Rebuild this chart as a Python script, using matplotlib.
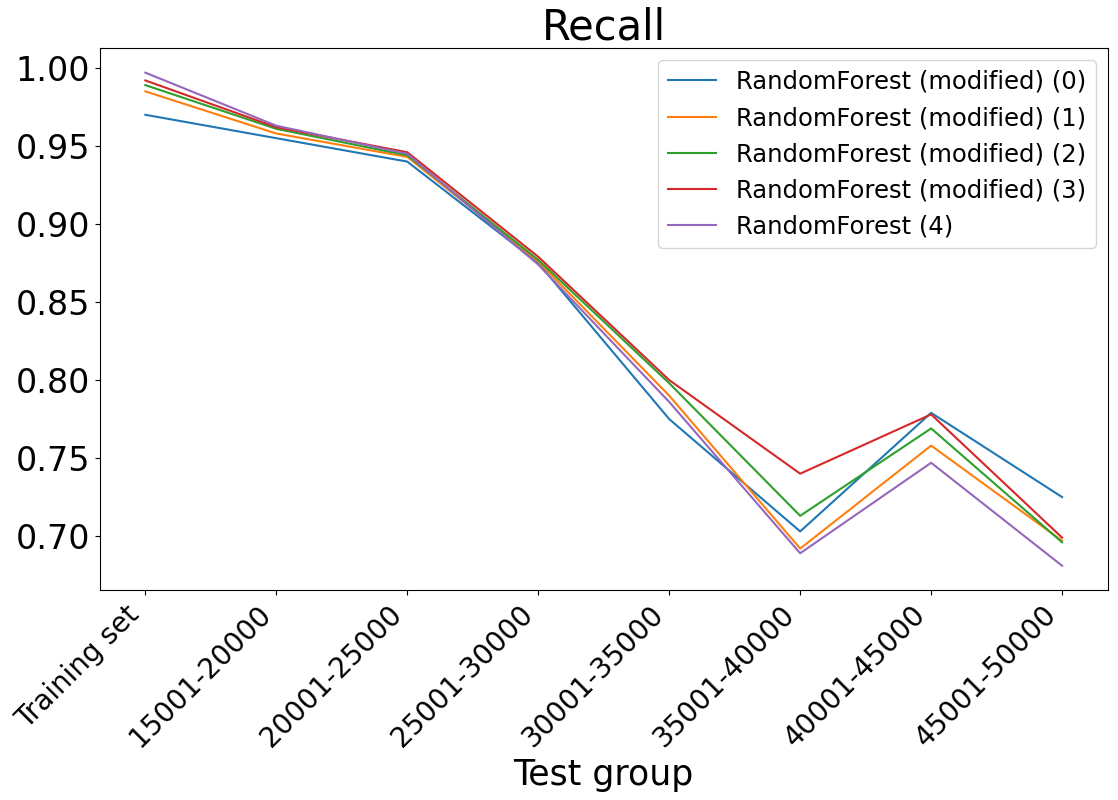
import matplotlib
matplotlib.use('Agg')
import matplotlib.pyplot as plt

groups = ['Training set', '15001-20000', '20001-25000', '25001-30000',
          '30001-35000', '35001-40000', '40001-45000', '45001-50000']
recall_0 = [0.970, 0.955, 0.940, 0.875, 0.775, 0.703, 0.779, 0.725]
recall_1 = [0.985, 0.958, 0.943, 0.876, 0.790, 0.692, 0.758, 0.697]
recall_2 = [0.989, 0.961, 0.944, 0.877, 0.798, 0.713, 0.769, 0.696]
recall_3 = [0.992, 0.962, 0.946, 0.879, 0.800, 0.740, 0.778, 0.699]
recall_4 = [0.997, 0.963, 0.945, 0.874, 0.786, 0.689, 0.747, 0.681]
labels = ['RandomForest (modified) (0)', 'RandomForest (modified) (1)',
          'RandomForest (modified) (2)', 'RandomForest (modified) (3)',
          'RandomForest (4)']

fig = plt.figure(figsize=(11.18, 8), dpi=100)
ax = fig.add_axes([0.089, 0.262, 0.902, 0.678])
for vals, lab in zip([recall_0, recall_1, recall_2, recall_3, recall_4], labels):
    ax.plot(groups, vals, label=lab)
ax.set_title('Recall', fontsize=30)
ax.set_xlabel('Test group', fontsize=25)
ax.tick_params(axis='y', labelsize=24)
ax.tick_params(axis='x', labelsize=20)
plt.setp(ax.get_xticklabels(), rotation=45, ha='right')
ax.legend(fontsize=17.5, loc='upper right')
fig.savefig('out.png')
